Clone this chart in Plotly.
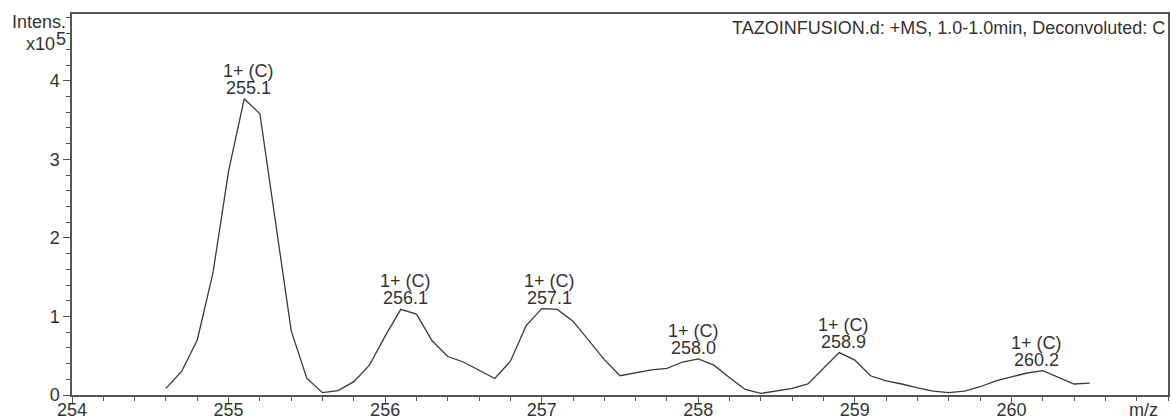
import plotly.graph_objects as go

# m/z values of the profile spectrum
mz = [254.6, 254.7, 254.8, 254.9, 255.0, 255.1, 255.2, 255.3, 255.4, 255.5,
      255.6, 255.7, 255.8, 255.9, 256.0, 256.1, 256.2, 256.3, 256.4, 256.5,
      256.6, 256.7, 256.8, 256.9, 257.0, 257.1, 257.2, 257.3, 257.4, 257.5,
      257.6, 257.7, 257.8, 257.9, 258.0, 258.1, 258.2, 258.3, 258.4, 258.5,
      258.6, 258.7, 258.8, 258.9, 259.0, 259.1, 259.2, 259.3, 259.4, 259.5,
      259.6, 259.7, 259.8, 259.9, 260.0, 260.1, 260.2, 260.3, 260.4, 260.5]
# intensity in units of 1e5
intensity = [0.085, 0.30, 0.70, 1.55, 2.85, 3.77, 3.58, 2.20, 0.82, 0.21,
             0.03, 0.055, 0.17, 0.38, 0.75, 1.09, 1.03, 0.69, 0.49, 0.42,
             0.31, 0.21, 0.43, 0.88, 1.10, 1.09, 0.94, 0.70, 0.45, 0.245,
             0.28, 0.32, 0.34, 0.42, 0.46, 0.38, 0.22, 0.07, 0.02, 0.05,
             0.085, 0.14, 0.34, 0.54, 0.445, 0.245, 0.18, 0.14, 0.09, 0.05,
             0.03, 0.05, 0.105, 0.18, 0.23, 0.28, 0.31, 0.22, 0.14, 0.15]

# peak labels
peak_mz = [255.13, 256.13, 257.05, 257.97, 258.93, 260.16]
peak_height = [3.77, 1.09, 1.10, 0.46, 0.54, 0.31]
peak_text = ["255.1", "256.1", "257.1", "258.0", "258.9", "260.2"]
peak_charge = ["1+ (C)"] * 6

x_ticks = [254, 255, 256, 257, 258, 259, 260]
y_ticks = [0, 1, 2, 3, 4]

title_text = "TAZOINFUSION.d: +MS, 1.0-1.0min, Deconvoluted: C"

FONT = "Liberation Sans, Arial, sans-serif"
TXT = "#333333"
AX = "#555555"
FS = 18

fig = go.Figure()
fig.add_trace(go.Scatter(x=mz, y=intensity, mode="lines",
                         line=dict(color="#3a3a3a", width=1.3),
                         hoverinfo="skip", showlegend=False))

annotations = []
for x, h, t, c in zip(peak_mz, peak_height, peak_text, peak_charge):
    annotations.append(dict(x=x, y=h, xref="x", yref="y", text=t, showarrow=False,
                            xanchor="center", yanchor="bottom", yshift=-1,
                            font=dict(family=FONT, size=FS, color=TXT)))
    annotations.append(dict(x=x, y=h, xref="x", yref="y", text=c, showarrow=False,
                            xanchor="center", yanchor="bottom", yshift=16,
                            font=dict(family=FONT, size=FS, color=TXT)))

annotations += [
    dict(x=1, y=1, xref="paper", yref="paper", text=title_text, showarrow=False,
         xanchor="right", yanchor="top", xshift=-1, yshift=-2,
         font=dict(family=FONT, size=FS, color=TXT)),
    dict(x=0, y=1, xref="paper", yref="paper", text="Intens.", showarrow=False,
         xanchor="right", yanchor="middle", xshift=-4, yshift=-8,
         font=dict(family=FONT, size=FS, color=TXT)),
    dict(x=0, y=1, xref="paper", yref="paper", text="x10", showarrow=False,
         xanchor="right", yanchor="middle", xshift=-15, yshift=-30,
         font=dict(family=FONT, size=FS, color=TXT)),
    dict(x=0, y=1, xref="paper", yref="paper", text="5", showarrow=False,
         xanchor="right", yanchor="middle", xshift=-4, yshift=-25,
         font=dict(family=FONT, size=FS, color=TXT)),
    dict(x=1, y=0, xref="paper", yref="paper", text="m/z", showarrow=False,
         xanchor="right", yanchor="top", xshift=-8, yshift=-3,
         font=dict(family=FONT, size=FS, color=TXT)),
]

fig.update_layout(
    width=1171, height=419,
    margin=dict(l=72, r=3, t=14, b=24, autoexpand=False),
    paper_bgcolor="white", plot_bgcolor="white",
    annotations=annotations,
    xaxis=dict(range=[254, 261], tickvals=x_ticks, ticks="outside", ticklen=6,
               tickcolor=AX, tickwidth=1.2, showline=True, linecolor=AX, linewidth=1.5,
               mirror=True, showgrid=False, zeroline=False, automargin=False,
               ticklabelstandoff=-8,
               tickfont=dict(family=FONT, size=FS, color=TXT),
               minor=dict(dtick=0.2, tick0=254, ticks="outside", ticklen=4,
                          tickcolor=AX, tickwidth=1.2, showgrid=False)),
    yaxis=dict(range=[0, 4.85], tickvals=y_ticks, ticks="outside", ticklen=7,
               tickcolor=AX, tickwidth=1.2, showline=True, linecolor=AX, linewidth=1.5,
               mirror=True, showgrid=False, zeroline=False, automargin=False,
               tickfont=dict(family=FONT, size=FS, color=TXT),
               minor=dict(dtick=0.2, tick0=0, ticks="outside", ticklen=4,
                          tickcolor=AX, tickwidth=1.2, showgrid=False)),
)

fig.write_html("out.html")
